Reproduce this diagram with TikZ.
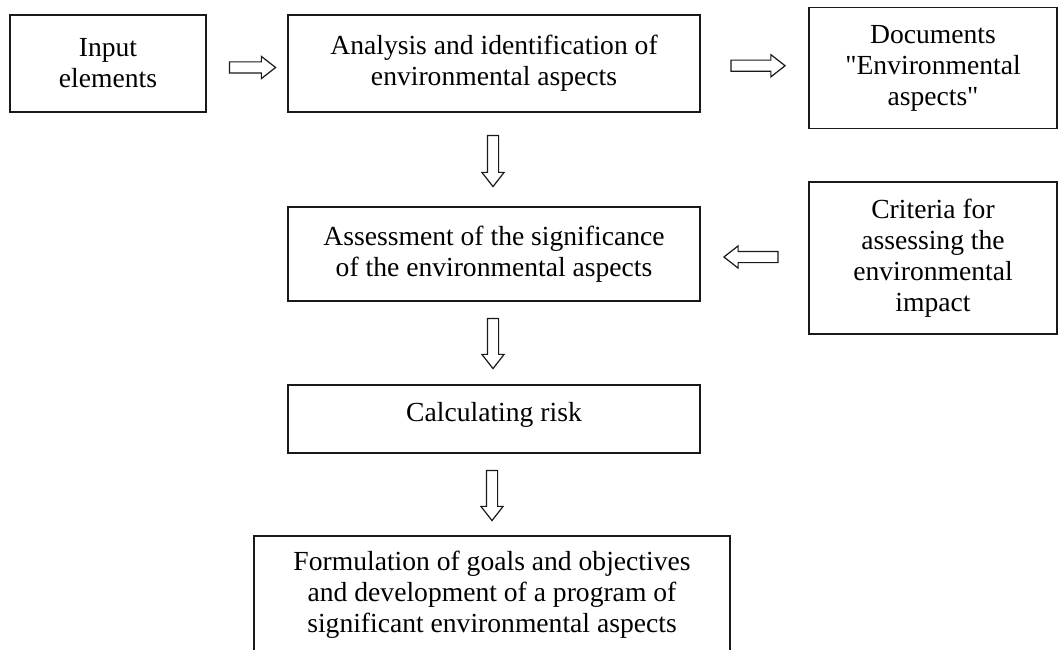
\documentclass[tikz,border=0pt]{standalone}
\usepackage{fontspec}
\setmainfont{Liberation Serif}[Ligatures=ResetAll]
\usetikzlibrary{shapes.arrows,calc}
\newcommand\straightdq{\XeTeXglyph\XeTeXcharglyph"22\relax}
\tikzset{
  box/.style={draw=black!90, line width=1.6pt, align=center, inner sep=0pt,
    font=\fontsize{27.6}{31}\selectfont},
  blockarrow/.style={single arrow, draw=black!90, line width=1.2pt, fill=white,
    inner xsep=0pt, inner ysep=5pt, text height=0pt, text depth=0pt,
    single arrow head extend=5.5pt, single arrow tip angle=76},
}
\begin{document}
\begin{tikzpicture}[x=1pt,y=-1pt]
\clip (0,0) rectangle (1060,650);
\fill[white] (0,0) rectangle (1060,650);
\node[box, minimum width=196pt, minimum height=97pt] (input) at (108,63.5) {Input\\elements};
\node[box, minimum width=412pt, minimum height=97pt] (analysis) at (494,63.5) {Analysis and identification of\\environmental aspects};
\node[box, minimum width=248pt, minimum height=121pt] (docs) at (933,68) {Documents\\\straightdq Environmental\\aspects\straightdq};
\node[box, minimum width=412pt, minimum height=94pt] (assess) at (494,254) {Assessment of the significance\\of the environmental aspects};
\node[box, minimum width=248pt, minimum height=152pt] (criteria) at (933,258) {Criteria for\\assessing the\\environmental\\impact};
\node[box, minimum width=412pt, minimum height=68pt, text height=19pt, text depth=15pt] (calc) at (494,419) {Calculating risk};
\node[box, minimum width=476pt, minimum height=118pt] (form) at (492,595) {Formulation of goals and objectives\\and development of a program of\\significant environmental aspects};

\node[blockarrow, minimum height=46pt] (a1) at ($(input.east)!0.5!(analysis.west)+(2,4)$) {};
\node[blockarrow, minimum height=54pt] (a2) at ($(analysis.east)!0.5!(docs.west)$ |- a1) {};
\node[blockarrow, minimum height=51pt, rotate=-90] (a3) at ($(analysis.south)!0.5!(assess.north)+(-1,-2)$) {};
\node[blockarrow, minimum height=54pt, rotate=180] (a4) at ($(assess.east)!0.5!(criteria.west)+(0,1)$) {};
\node[blockarrow, minimum height=50pt, rotate=-90] (a5) at ($(assess.south)!0.5!(calc.north)+(-1,-3)$) {};
\node[blockarrow, minimum height=50pt, rotate=-90] (a6) at ($(calc.south)!0.5!(form.north)+(-1,-2.5)$) {};
\end{tikzpicture}
\end{document}
